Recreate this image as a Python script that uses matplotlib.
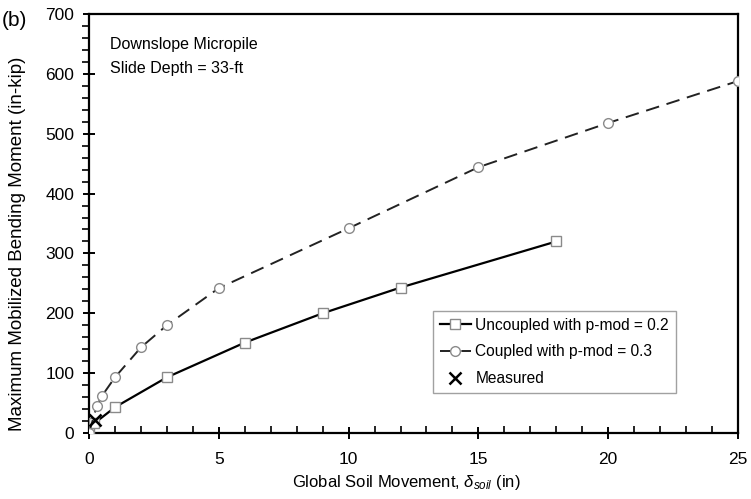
import matplotlib
matplotlib.use("Agg")
import matplotlib.pyplot as plt
from matplotlib.ticker import MultipleLocator

plt.rcParams['font.family'] = ['Liberation Sans', 'DejaVu Sans']
plt.rcParams['mathtext.fontset'] = 'custom'
plt.rcParams['mathtext.it'] = 'Liberation Sans:italic'
plt.rcParams['mathtext.rm'] = 'Liberation Sans'

# Uncoupled analysis, p-multiplier 0.2
unc_x = [0, 0.2, 1, 3, 6, 9, 12, 18]
unc_y = [0, 16, 43, 93, 151, 200, 243, 320]

# Coupled analysis, p-multiplier 0.3
cpl_x = [0, 0.3, 0.5, 1, 2, 3, 5, 10, 15, 20, 25]
cpl_y = [0, 45, 62, 93, 143, 180, 242, 342, 444, 518, 588]

# Field measurement
meas_x = [0.25]
meas_y = [22]

fig = plt.figure(figsize=(7.51, 4.99), dpi=100)
ax = fig.add_axes([89/751, 1-433/499, (738-89)/751, (433-14)/499])

edge = '#8a8a8a'
ax.plot(unc_x, unc_y, '-', color='black', lw=1.6, marker='s', ms=7.5,
        mfc='white', mec=edge, mew=1.0, label='Uncoupled with p-mod = 0.2', zorder=3)
ax.plot(cpl_x, cpl_y, '--', color='#222222', lw=1.4, dashes=(7, 4), marker='o', ms=7,
        mfc='white', mec=edge, mew=1.0, label='Coupled with p-mod = 0.3', zorder=3)
ax.plot(meas_x, meas_y, 'x', color='black', ms=9, mew=1.8, ls='none',
        label='Measured', zorder=4)

ax.set_xlim(0, 25)
ax.set_ylim(0, 700)
ax.xaxis.set_major_locator(MultipleLocator(5))
ax.xaxis.set_minor_locator(MultipleLocator(1))
ax.yaxis.set_major_locator(MultipleLocator(100))
ax.yaxis.set_minor_locator(MultipleLocator(20))

for s in ax.spines.values():
    s.set_linewidth(1.6)
    s.set_color('black')

ax.tick_params(axis='both', which='major', direction='inout', length=9, width=1.4,
               labelsize=12.5, colors='black', pad=6)
ax.tick_params(axis='x', which='minor', direction='in', length=5, width=1.2)
ax.tick_params(axis='y', which='minor', direction='out', length=5, width=1.2)
ax.tick_params(axis='x', which='major', pad=9)

ax.set_xlabel(r'Global Soil Movement, $\delta_{soil}$ (in)', fontsize=12)
ax.xaxis.set_label_coords((406 - 89) / 649, -(483 - 433) / 419)
ax.xaxis.label.set_va('center')
ax.set_ylabel('Maximum Mobilized Bending Moment (in-kip)', fontsize=13.5)
ax.yaxis.set_label_coords(-(89 - 18) / 649, (433 - 244) / 419)
ax.yaxis.label.set_va('center')

ax.text((110 - 89) / 649, (433 - 45) / 419, 'Downslope Micropile', transform=ax.transAxes,
        fontsize=11.5, va='center', ha='left')
ax.text((110 - 89) / 649, (433 - 69) / 419, 'Slide Depth = 33-ft', transform=ax.transAxes,
        fontsize=11.5, va='center', ha='left')
fig.text(2/751, 1-20/499, '(b)', fontsize=15, va='center', ha='left')

leg = ax.legend(loc='lower right', bbox_to_anchor=(676/751, 1-393/499),
                bbox_transform=fig.transFigure, fontsize=11.2,
                frameon=True, fancybox=False, edgecolor='#8a8a8a', handlelength=2.0,
                handletextpad=0.3, borderpad=0.45, labelspacing=0.75, borderaxespad=0)
leg.get_frame().set_linewidth(1.0)

fig.savefig('out.png', dpi=100)
